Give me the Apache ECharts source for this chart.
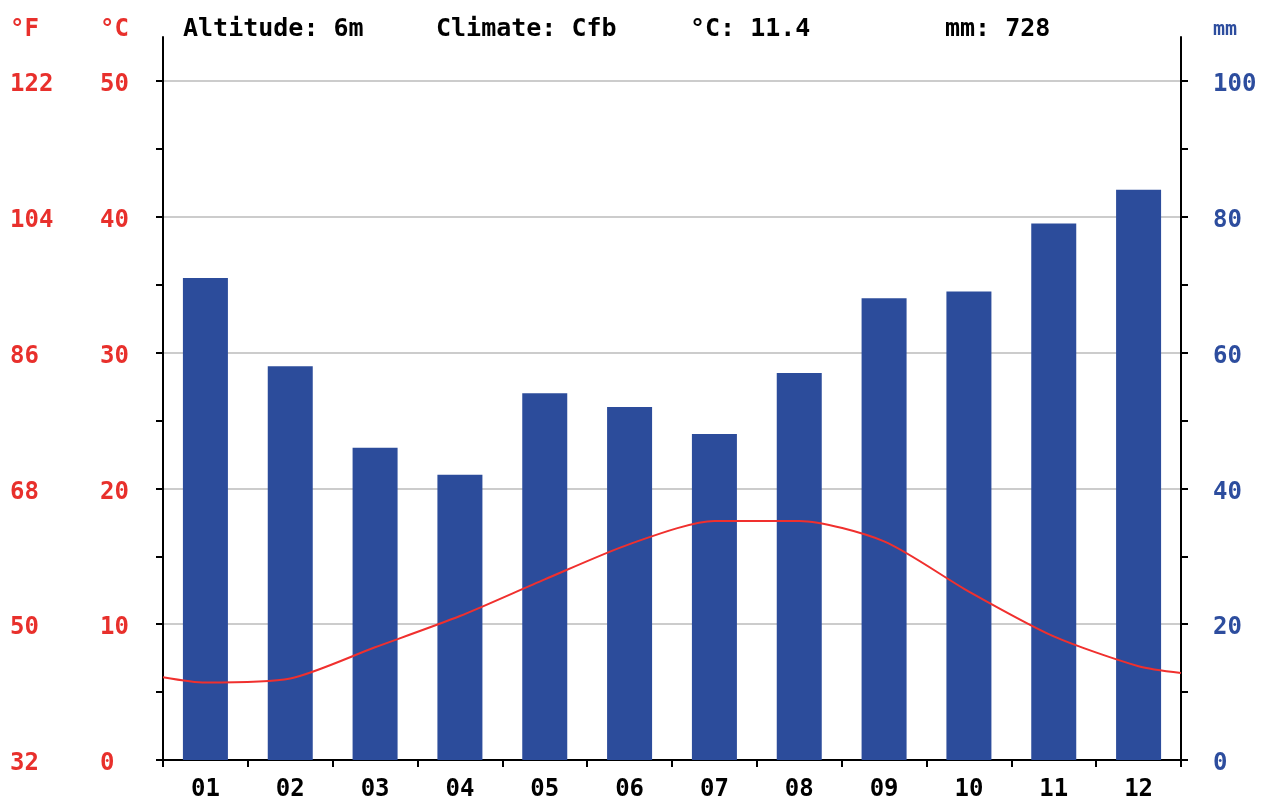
<!DOCTYPE html>
<html>
<head>
<meta charset="utf-8">
<script src="https://cdn.jsdelivr.net/npm/echarts@6/dist/echarts.min.js"></script>
<style>
html,body{margin:0;padding:0;background:#fff;}
#chart{width:1265px;height:799px;}
</style>
</head>
<body>
<div id="chart"></div>
<script>
// ---- data ----
var months = ['01','02','03','04','05','06','07','08','09','10','11','12'];
var precipMm = [71, 58, 46, 42, 54, 52, 48, 57, 68, 69, 79, 84];
// temperature line: x positions in month units (0 = left edge, 12 = right edge)
var tempX = [0, 0.5, 1.5, 2.5, 3.5, 4.5, 5.5, 6.5, 7.5, 8.5, 9.5, 10.5, 11.5, 12];
var tempC = [6.1, 5.7, 6.0, 8.3, 10.6, 13.3, 15.9, 17.6, 17.6, 16.1, 12.4, 9.1, 6.9, 6.4];
var celsiusTicks = ['0','10','20','30','40','50'];
var fahrenheitTicks = ['32','50','68','86','104','122'];
var mmTicks = ['0','20','40','60','80','100'];
var headerTexts = ['Altitude: 6m', 'Climate: Cfb', '°C: 11.4', 'mm: 728'];

var RED = '#e8302c', BLUE = '#2d4d9e', BAR = '#2c4c9b';
var FONT = 'DejaVu Sans Mono';
var lineData = tempX.map(function (x, i) { return [x, tempC[i]]; });

var chart = echarts.init(document.getElementById('chart'), null, {renderer: 'canvas'});
var gridPos = {left: 163, right: 84, bottom: 39, outerBoundsMode: 'none', containLabel: false};
var lbl = {fontFamily: FONT, fontWeight: 'bold', fontSize: 24};
var ylbl = Object.assign({verticalAlign: 'top', lineHeight: 8}, lbl);

var option = {
  backgroundColor: '#ffffff',
  animation: false,
  grid: [
    Object.assign({top: 81}, gridPos),
    Object.assign({top: 37}, gridPos)
  ],
  xAxis: [
    {
      type: 'category', data: months, gridIndex: 0,
      axisLine: {show: true, lineStyle: {color: '#000', width: 2}},
      axisTick: {show: true, alignWithLabel: false, length: 7, lineStyle: {color: '#000', width: 2}},
      axisLabel: Object.assign({color: '#000', margin: 18}, lbl),
      splitLine: {show: false}
    },
    {
      type: 'value', min: 0, max: 12, gridIndex: 0, show: false
    },
    {
      type: 'value', min: 0, max: 1, gridIndex: 1, show: false
    }
  ],
  yAxis: [
    {
      type: 'value', min: 0, max: 50, interval: 10, gridIndex: 0, position: 'left',
      axisLine: {show: true, lineStyle: {color: '#000', width: 2}},
      axisTick: {show: true, length: 7, lineStyle: {color: '#000', width: 2}},
      minorTick: {show: true, splitNumber: 2, length: 7, lineStyle: {color: '#000', width: 2}},
      splitLine: {show: true, lineStyle: {color: '#cccccc', width: 2}},
      axisLabel: Object.assign({color: RED, align: 'left', margin: 63,
        formatter: function (v) { return celsiusTicks[Math.round(v / 10)]; }}, ylbl)
    },
    {
      type: 'value', min: 0, max: 50, interval: 10, gridIndex: 0, position: 'left',
      axisLine: {show: false}, axisTick: {show: false}, splitLine: {show: false},
      axisLabel: Object.assign({color: RED, align: 'left', margin: 153,
        formatter: function (v) { return fahrenheitTicks[Math.round(v / 10)]; }}, ylbl)
    },
    {
      type: 'value', min: 0, max: 100, interval: 20, gridIndex: 0, position: 'right',
      axisLine: {show: true, lineStyle: {color: '#000', width: 2}},
      axisTick: {show: true, length: 7, lineStyle: {color: '#000', width: 2}},
      minorTick: {show: true, splitNumber: 2, length: 7, lineStyle: {color: '#000', width: 2}},
      splitLine: {show: false},
      axisLabel: Object.assign({color: BLUE, align: 'left', margin: 32,
        formatter: function (v) { return mmTicks[Math.round(v / 20)]; }}, ylbl)
    },
    {
      type: 'value', min: 0, max: 1, gridIndex: 1, position: 'left',
      axisLine: {show: true, lineStyle: {color: '#000', width: 2}},
      axisTick: {show: false}, axisLabel: {show: false}, splitLine: {show: false}
    },
    {
      type: 'value', min: 0, max: 1, gridIndex: 1, position: 'right',
      axisLine: {show: true, lineStyle: {color: '#000', width: 2}},
      axisTick: {show: false}, axisLabel: {show: false}, splitLine: {show: false}
    }
  ],
  series: [
    {
      type: 'bar', xAxisIndex: 0, yAxisIndex: 2, data: precipMm,
      barWidth: 45, itemStyle: {color: BAR}, z: 2
    },
    {
      type: 'line', xAxisIndex: 1, yAxisIndex: 0, data: lineData,
      smooth: 0.25, showSymbol: false, symbol: 'none',
      lineStyle: {color: '#f0302e', width: 2}, z: 3
    }
  ],
  graphic: [
    {type: 'text', left: 183, top: 17, style: {text: headerTexts[0], font: 'bold 25px ' + FONT, fill: '#000'}},
    {type: 'text', left: 436, top: 17, style: {text: headerTexts[1], font: 'bold 25px ' + FONT, fill: '#000'}},
    {type: 'text', left: 690, top: 17, style: {text: headerTexts[2], font: 'bold 25px ' + FONT, fill: '#000'}},
    {type: 'text', left: 945, top: 17, style: {text: headerTexts[3], font: 'bold 25px ' + FONT, fill: '#000'}},
    {type: 'text', left: 10, top: 18, style: {text: '°F', font: 'bold 24px ' + FONT, fill: RED}},
    {type: 'text', left: 100, top: 18, style: {text: '°C', font: 'bold 24px ' + FONT, fill: RED}},
    {type: 'text', left: 1213, top: 20, style: {text: 'mm', font: 'bold 20px ' + FONT, fill: BLUE}}
  ]
};
chart.setOption(option);
</script>
</body>
</html>
